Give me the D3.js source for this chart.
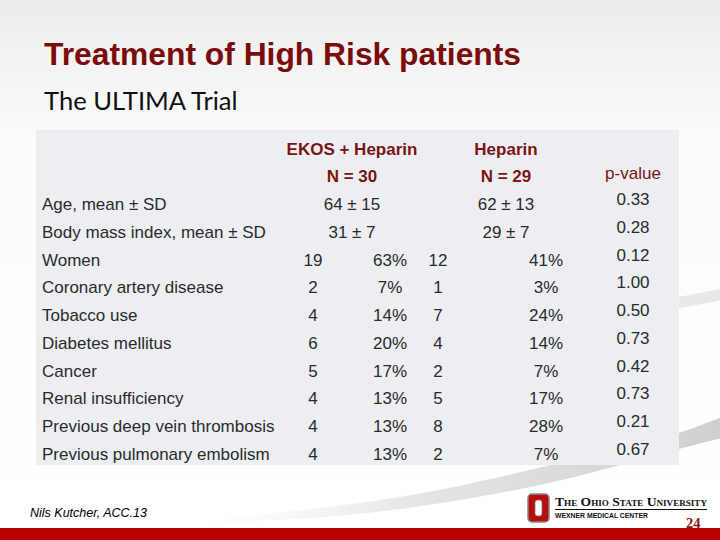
<!DOCTYPE html>
<html><head><meta charset="utf-8">
<script src="https://cdn.jsdelivr.net/npm/d3@7"></script>
<style>html,body{margin:0;padding:0;background:#fff;}svg{display:block;}</style>
</head><body>
<script>
// ---- data ----
const title = "Treatment of High Risk patients";
const subtitle = "The ULTIMA Trial";
const groupNames = ["EKOS + Heparin", "Heparin"];
const groupN = [30, 29];
const pHeader = "p-value";
const rowLabels = ["Age, mean ± SD", "Body mass index, mean ± SD", "Women", "Coronary artery disease",
  "Tobacco use", "Diabetes mellitus", "Cancer", "Renal insufficiency",
  "Previous deep vein thrombosis", "Previous pulmonary embolism"];
const ekosMean = [64, 31];
const ekosSD = [15, 7];
const hepMean = [62, 29];
const hepSD = [13, 7];
const ekosCount = [null, null, 19, 2, 4, 6, 5, 4, 4, 4];
const ekosPct = [null, null, 63, 7, 14, 20, 17, 13, 13, 13];
const hepCount = [null, null, 12, 1, 7, 4, 2, 5, 8, 2];
const hepPct = [null, null, 41, 3, 24, 14, 7, 17, 28, 7];
const pValues = [0.33, 0.28, 0.12, 1.00, 0.50, 0.73, 0.42, 0.73, 0.21, 0.67];
const footer = "Nils Kutcher, ACC.13";
const pageNum = "24";

// ---- drawing ----
const W = 720, H = 540;
const svg = d3.select("body").append("svg").attr("width", W).attr("height", H);
const defs = svg.append("defs");
const bg = defs.append("linearGradient").attr("id", "bg").attr("x1", 0).attr("y1", 0).attr("x2", 0).attr("y2", 1);
bg.append("stop").attr("offset", "0").attr("stop-color", "#ececec");
bg.append("stop").attr("offset", "0.25").attr("stop-color", "#fbfbfb");
bg.append("stop").attr("offset", "1").attr("stop-color", "#ffffff");
const sw = defs.append("linearGradient").attr("id", "sw").attr("x1", 0).attr("y1", 0).attr("x2", 1).attr("y2", 0);
sw.append("stop").attr("offset", "0").attr("stop-color", "#ffffff").attr("stop-opacity", 0);
sw.append("stop").attr("offset", "0.45").attr("stop-color", "#e6e6e6");
sw.append("stop").attr("offset", "1").attr("stop-color", "#cfcfcf");

svg.append("rect").attr("width", W).attr("height", H).attr("fill", "url(#bg)");

// decorative swooshes
const curve = d3.line().curve(d3.curveCatmullRom);
const topEdge = [[150, 526], [400, 497], [580, 458], [679, 433], [722, 417]];
const botEdge = [[722, 438], [679, 449], [540, 485], [368, 513], [150, 526]];
svg.append("path").attr("d", curve(topEdge) + "L" + curve(botEdge).slice(1) + "Z").attr("fill", "url(#sw)");
const top2 = [[560, 330], [640, 305], [679, 297], [722, 289]];
const bot2 = [[722, 300], [679, 308], [640, 315], [560, 330]];
svg.append("path").attr("d", curve(top2) + "L" + curve(bot2).slice(1) + "Z").attr("fill", "#e8e8e8");

// titles
svg.append("text").attr("x", 44).attr("y", 65).text(title)
  .attr("font-family", "Liberation Sans, Arial, sans-serif").attr("font-weight", "bold")
  .attr("font-size", 31.8).attr("fill", "#7a0c0c");
svg.append("text").attr("x", 44).attr("y", 110).text(subtitle)
  .attr("font-family", "Lato, sans-serif").attr("font-size", 25.6).attr("fill", "#111");

// table
const tX0 = 36, tX1 = 679, tY0 = 130, tY1 = 465;
svg.append("rect").attr("x", tX0).attr("y", tY0).attr("width", tX1 - tX0).attr("height", tY1 - tY0)
  .attr("fill", "#eceef2");

const font = "Liberation Sans, Arial, sans-serif";
const txtCol = "#2b2b2b";
const headCol = "#7a1414";
const y = d3.scalePoint().domain(rowLabels).range([210, 460]);
const col = d3.scaleOrdinal()
  .domain(["label", "ekos", "ekosN", "ekosP", "hep", "hepN", "hepP", "p"])
  .range([42, 352, 313, 390, 506, 438, 546, 633]);

const g = svg.append("g").attr("font-family", font).attr("font-size", 17);

// headers
groupNames.forEach((name, i) => {
  const key = i === 0 ? "ekos" : "hep";
  g.append("text").attr("x", col(key)).attr("y", 155).attr("text-anchor", "middle")
    .attr("font-weight", "bold").attr("fill", headCol).text(name);
  g.append("text").attr("x", col(key)).attr("y", 182).attr("text-anchor", "middle")
    .attr("font-weight", "bold").attr("fill", headCol).text("N = " + groupN[i]);
});
g.append("text").attr("x", col("p")).attr("y", 179).attr("text-anchor", "middle")
  .attr("fill", headCol).text(pHeader);

// rows
rowLabels.forEach((lab, i) => {
  const yy = y(lab);
  g.append("text").attr("x", col("label")).attr("y", yy).attr("fill", txtCol).text(lab);
  if (ekosCount[i] == null) {
    g.append("text").attr("x", col("ekos")).attr("y", yy).attr("text-anchor", "middle")
      .attr("fill", txtCol).text(ekosMean[i] + " ± " + ekosSD[i]);
    g.append("text").attr("x", col("hep")).attr("y", yy).attr("text-anchor", "middle")
      .attr("fill", txtCol).text(hepMean[i] + " ± " + hepSD[i]);
  } else {
    [["ekosN", ekosCount[i], ""], ["ekosP", ekosPct[i], "%"], ["hepN", hepCount[i], ""], ["hepP", hepPct[i], "%"]]
      .forEach(([k, v, s]) => {
        g.append("text").attr("x", col(k)).attr("y", yy).attr("text-anchor", "middle")
          .attr("fill", txtCol).text(v + s);
      });
  }
  g.append("text").attr("x", col("p")).attr("y", yy - 5).attr("text-anchor", "middle")
    .attr("fill", txtCol).text(d3.format(".2f")(pValues[i]));
});

// footer
svg.append("text").attr("x", 30).attr("y", 517).text(footer)
  .attr("font-family", font).attr("font-style", "italic").attr("font-size", 12.5).attr("fill", "#000");

// logo
const lg = svg.append("g");
lg.append("rect").attr("x", 528).attr("y", 494).attr("width", 21).attr("height", 28).attr("rx", 4)
  .attr("fill", "#b80d0d").attr("stroke", "#888").attr("stroke-width", 1.5);
lg.append("rect").attr("x", 535).attr("y", 500).attr("width", 7).attr("height", 16).attr("rx", 2.5)
  .attr("fill", "#fff").attr("stroke", "#777").attr("stroke-width", 0.8);
lg.append("text").attr("x", 555).attr("y", 506).text("The Ohio State University")
  .attr("font-family", "Liberation Serif, serif").attr("font-weight", "bold").attr("font-variant", "small-caps")
  .attr("font-size", 12).attr("textLength", 152).attr("lengthAdjust", "spacingAndGlyphs").attr("fill", "#111");
lg.append("line").attr("x1", 555).attr("x2", 707).attr("y1", 509.5).attr("y2", 509.5)
  .attr("stroke", "#111").attr("stroke-width", 1);
lg.append("text").attr("x", 555).attr("y", 518).text("WEXNER MEDICAL CENTER")
  .attr("font-family", font).attr("font-weight", "bold").attr("font-size", 7)
  .attr("textLength", 93).attr("lengthAdjust", "spacingAndGlyphs").attr("fill", "#111");
svg.append("text").attr("x", 686).attr("y", 528).text(pageNum)
  .attr("font-family", "Liberation Serif, serif").attr("font-weight", "bold").attr("font-size", 14.5).attr("fill", "#8b1212");

// bottom band
svg.append("rect").attr("x", 0).attr("y", 528).attr("width", W).attr("height", 12).attr("fill", "#b80000");
</script>
</body></html>
